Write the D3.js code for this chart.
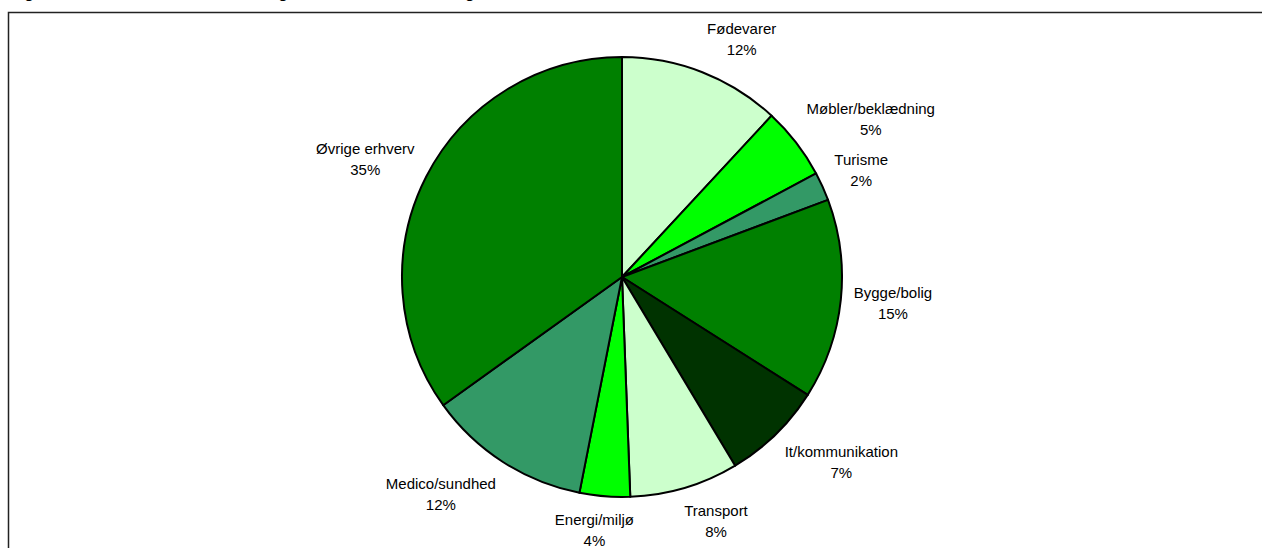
<!DOCTYPE html>
<html>
<head>
<meta charset="utf-8">
<script src="https://cdn.jsdelivr.net/npm/d3@7"></script>
<style>
  body { margin: 0; background: #fff; }
  text { font-family: Arial, "Liberation Sans", sans-serif; fill: #000; }
</style>
</head>
<body>
<script>
(function() {

	// data (shares in percent, clockwise from 12 o'clock)
	var categories = ["Fødevarer", "Møbler/beklædning", "Turisme", "Bygge/bolig", "It/kommunikation",
		"Transport", "Energi/miljø", "Medico/sundhed", "Øvrige erhverv"];
	var shares = [11.9, 5.3, 2.1, 14.7, 7.4, 8.0, 3.7, 12.0, 34.9];
	var sliceColors = ["#ccffcc", "#00ff00", "#339966", "#008000", "#003300",
		"#ccffcc", "#00ff00", "#339966", "#008000"];
	var title = "Figur 3.1 Virksomhedernes fordeling efter hovederhverv i regionen";

	var width = 1262;
	var height = 548;
	var cx = 622, cy = 277;
	var radius = 220;
	var labelRadius = radius + 13;
	var lineHeight = 21;

	var svg = d3.select("body")
		.append("svg")
		.attr("width", width)
		.attr("height", height);

	// title sits above the frame, only its descenders are visible
	svg.append("text")
		.attr("x", 10)
		.attr("y", -2)
		.style("font-size", "16px")
		.style("font-weight", "bold")
		.text(title);

	// chart frame (runs off the right and bottom of the picture)
	svg.append("rect")
		.attr("x", 8.5)
		.attr("y", 12.5)
		.attr("width", width + 20)
		.attr("height", height + 20)
		.style("fill", "#fff")
		.style("stroke", "#222")
		.style("stroke-width", 1.5);

	var pie = d3.pie()
		.sort(null)
		.value(function(d) { return d; });

	var arcs = pie(shares);

	var arc = d3.arc()
		.innerRadius(0)
		.outerRadius(radius);

	var g = svg.append("g")
		.attr("transform", "translate(" + cx + "," + cy + ")");

	g.selectAll("path.slice")
		.data(arcs)
		.enter().append("path")
		.attr("class", "slice")
		.attr("d", arc)
		.style("fill", function(d, i) { return sliceColors[i]; })
		.style("stroke", "#000")
		.style("stroke-width", 2)
		.style("stroke-linejoin", "round");

	// labels: name on one line, rounded percent below
	var clamp = function(v) { return Math.max(-1, Math.min(1, v)); };

	var label = g.selectAll("g.label")
		.data(arcs)
		.enter().append("g")
		.attr("class", "label");

	label.append("text")
		.attr("text-anchor", "middle")
		.attr("y", -lineHeight / 2)
		.attr("dy", "0.35em")
		.style("font-size", "15px")
		.text(function(d, i) { return categories[i]; });

	label.append("text")
		.attr("text-anchor", "middle")
		.attr("y", lineHeight / 2)
		.attr("dy", "0.35em")
		.style("font-size", "15px")
		.text(function(d) { return Math.round(d.value) + "%"; });

	label.attr("transform", function(d) {
		var a = (d.startAngle + d.endAngle) / 2;
		var s = Math.sin(a), c = Math.cos(a);
		var w = this.getBBox().width;
		var h = lineHeight * 2;
		var x = labelRadius * s + (w / 2) * clamp(s * 3);
		var y = -labelRadius * c + (h / 2) * clamp(-c * 1.2);
		return "translate(" + x + "," + y + ")";
	});

})();
</script>
</body>
</html>
